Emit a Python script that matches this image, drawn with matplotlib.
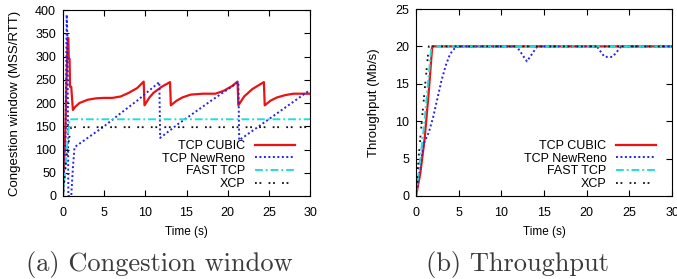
import matplotlib
matplotlib.use("Agg")
import matplotlib.pyplot as plt

# congestion window (MSS/RTT) vs time (s)
cubic_t = [0, 0.3, 0.5, 0.6, 0.65, 0.7, 0.8, 0.85, 1.0, 1.2, 1.5, 2, 3, 4, 5, 6, 7, 8, 9, 9.8,
           9.9, 10.5, 11, 12, 13, 13.1, 13.8, 14.5, 15.5, 17, 18.5, 19.5, 20.5, 21.2,
           21.3, 22, 23, 24.4, 24.5, 25.2, 26, 27, 28, 30]
cubic_w = [0, 150, 300, 340, 340, 295, 295, 235, 235, 185, 192, 200, 207, 210, 211, 211, 214, 222, 232, 246,
           195, 212, 222, 235, 245, 195, 205, 212, 218, 220, 220, 226, 236, 246,
           195, 214, 230, 245, 195, 205, 212, 217, 220, 220]
reno_t = [0, 0.3, 0.45, 0.55, 0.65, 1.0, 1.2, 1.4, 3, 5, 7, 9, 11.7, 11.8, 14, 16, 18, 21.3, 21.4, 30]
reno_w = [0, 120, 390, 330, 0, 0, 60, 105, 125, 150, 178, 205, 245, 125, 155, 180, 205, 245, 120, 228]
fast_t = [0, 0.3, 0.6, 0.8, 30]
fast_w = [0, 60, 130, 165, 165]
xcp_t = [0, 0.4, 0.8, 1.0, 30]
xcp_w = [0, 80, 130, 148, 148]

# throughput (Mb/s) vs time (s)
cubic_tt = [0, 0.5, 1.0, 1.5, 1.9, 30]
cubic_thr = [0, 3, 7.5, 14, 20, 20]
reno_tt = [0, 0.5, 0.9, 1.5, 2, 2.5, 3, 3.5, 4, 4.5, 5, 11.8, 12.4, 13, 13.6, 14.2,
           21.2, 21.7, 22.1, 23.0, 23.5, 24, 30]
reno_thr = [0, 4, 7, 8.5, 10.5, 13, 15.5, 17.5, 19, 19.7, 20, 20, 19, 18, 19, 20,
            20, 19.2, 18.6, 18.6, 19.2, 20, 20]
fast_tt = [0, 0.5, 1.0, 1.8, 30]
fast_thr = [0, 5, 10, 20, 20]
xcp_tt = [0, 0.3, 0.6, 1.0, 1.5, 30]
xcp_thr = [0, 5, 9, 14, 20, 20]

labels = ["TCP CUBIC", "TCP NewReno", "FAST TCP", "XCP"]

plt.rcParams['font.family'] = ['Liberation Sans', 'DejaVu Sans']

fig = plt.figure(figsize=(6.77, 2.79), dpi=100)
W, H = 677, 279
ax1 = fig.add_axes([63 / W, (H - 196) / H, 247 / W, 186 / H])
ax2 = fig.add_axes([416 / W, (H - 196) / H, 256 / W, 187 / H])


def draw(ax, series):
    (t1, y1), (t2, y2), (t3, y3), (t4, y4) = series
    ax.plot(t1, y1, color="#ee1111", lw=1.6, label=labels[0])
    ax.plot(t2, y2, color="#2222ee", lw=1.4, ls=(0, (1, 1.3)), label=labels[1])
    ax.plot(t3, y3, color="#22dddd", lw=1.4, ls=(0, (4, 1.5, 1, 1.5)), label=labels[2])
    ax.plot(t4, y4, color="#111111", lw=1.3, ls=(0, (1, 1.5, 1, 4)), label=labels[3])
    ax.set_xlim(0, 30)
    ax.set_xticks(range(0, 31, 5))
    ax.tick_params(direction="in", top=True, right=True, labelsize=9, length=4, pad=5)
    ax.tick_params(axis="x", pad=8)
    ax.set_xlabel("Time (s)", fontsize=8.5, labelpad=5)
    ax.legend(loc="lower right", markerfirst=False, frameon=False, fontsize=9,
              handlelength=3.2, labelspacing=0.05, handletextpad=0.8,
              borderaxespad=0, borderpad=0, bbox_to_anchor=(1 - 15 / 247, 6 / 186))


draw(ax1, [(cubic_t, cubic_w), (reno_t, reno_w), (fast_t, fast_w), (xcp_t, xcp_w)])
ax1.set_ylim(0, 400)
ax1.set_yticks(range(0, 401, 50))
ax1.set_ylabel("Congestion window (MSS/RTT)", fontsize=9.5, labelpad=10)

draw(ax2, [(cubic_tt, cubic_thr), (reno_tt, reno_thr), (fast_tt, fast_thr), (xcp_tt, xcp_thr)])
ax2.set_ylim(0, 25)
ax2.set_yticks(range(0, 26, 5))
ax2.set_ylabel("Throughput (Mb/s)", fontsize=9.5, labelpad=11)

fig.text(159 / W, 1 - 271 / H, "(a) Congestion window", family="cmr10", fontsize=19,
         ha="center", va="baseline", color="#3a3a3a")
fig.text(518 / W, 1 - 271 / H, "(b) Throughput", family="cmr10", fontsize=19,
         ha="center", va="baseline", color="#3a3a3a")

fig.savefig("out.png", dpi=100)
